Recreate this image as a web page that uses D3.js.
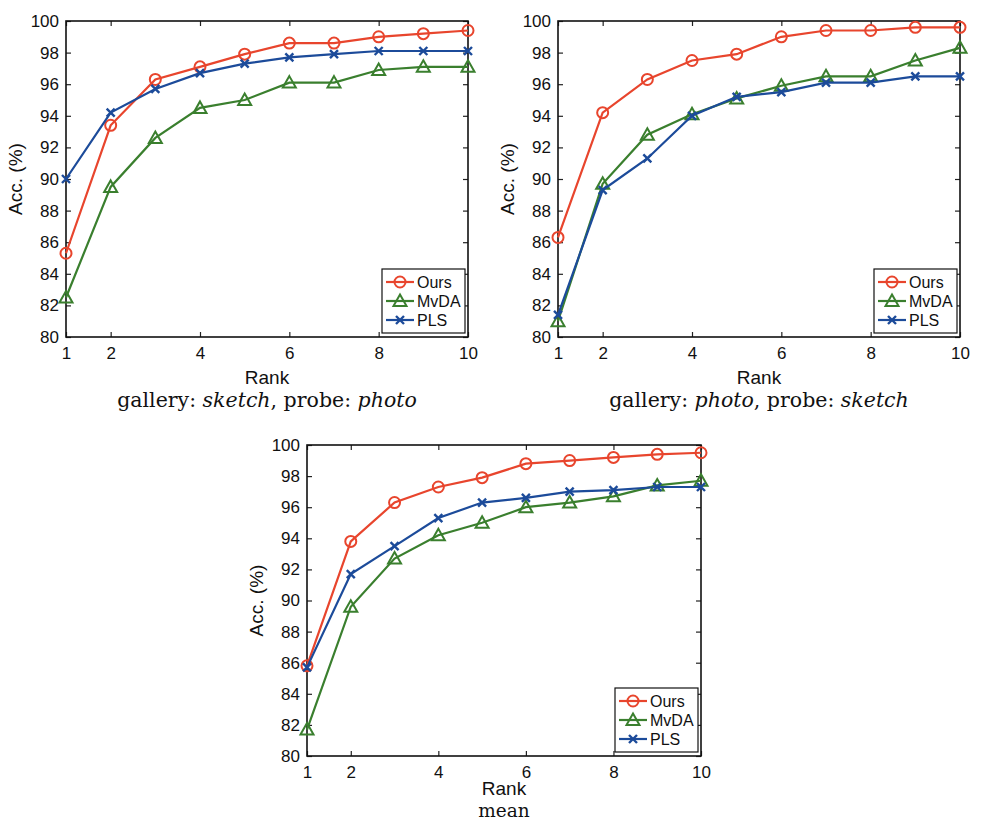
<!DOCTYPE html>
<html lang="en">
  <head>
    <meta charset="UTF-8" />
    <title>Rank vs accuracy</title>
    <script src="https://d3js.org/d3.v7.min.js"></script>
    <style>
      body { margin: 0; background: #fff; }
      svg { display: block; }
    </style>
  </head>
  <body>
    <svg width="981" height="822"></svg>
    <script>
      // chart values
      const ranks = [1, 2, 3, 4, 5, 6, 7, 8, 9, 10];
      const xTicks = [1, 2, 4, 6, 8, 10];
      const yTicks = [80, 82, 84, 86, 88, 90, 92, 94, 96, 98, 100];
      const methods = ['Ours', 'MvDA', 'PLS'];

      // gallery: sketch, probe: photo
      const oursSP = [85.3, 93.4, 96.3, 97.1, 97.9, 98.6, 98.6, 99.0, 99.2, 99.4];
      const mvdaSP = [82.5, 89.5, 92.6, 94.5, 95.0, 96.1, 96.1, 96.9, 97.1, 97.1];
      const plsSP = [90.0, 94.2, 95.7, 96.7, 97.3, 97.7, 97.9, 98.1, 98.1, 98.1];

      // gallery: photo, probe: sketch
      const oursPS = [86.3, 94.2, 96.3, 97.5, 97.9, 99.0, 99.4, 99.4, 99.6, 99.6];
      const mvdaPS = [81.0, 89.7, 92.8, 94.1, 95.1, 95.9, 96.5, 96.5, 97.5, 98.3];
      const plsPS = [81.4, 89.3, 91.3, 94.0, 95.2, 95.5, 96.1, 96.1, 96.5, 96.5];

      // mean
      const oursMean = [85.8, 93.8, 96.3, 97.3, 97.9, 98.8, 99.0, 99.2, 99.4, 99.5];
      const mvdaMean = [81.7, 89.6, 92.7, 94.2, 95.0, 96.0, 96.3, 96.7, 97.4, 97.7];
      const plsMean = [85.7, 91.7, 93.5, 95.3, 96.3, 96.6, 97.0, 97.1, 97.3, 97.3];

      const colors = { Ours: '#e8452d', MvDA: '#3a7f2e', PLS: '#1c4b9a' };
      const markers = { Ours: 'circle', MvDA: 'triangle', PLS: 'cross' };

      const panels = [
        {
          box: { left: 66, right: 468, top: 21, bottom: 337 },
          series: { Ours: oursSP, MvDA: mvdaSP, PLS: plsSP },
          rankY: 47, capY: 70, capSize: 20.5,
          caption: [['gallery: ', false], ['sketch', true], [', probe: ', false], ['photo', true]],
        },
        {
          box: { left: 558, right: 960, top: 21, bottom: 337 },
          series: { Ours: oursPS, MvDA: mvdaPS, PLS: plsPS },
          rankY: 47, capY: 70, capSize: 20.5,
          caption: [['gallery: ', false], ['photo', true], [', probe: ', false], ['sketch', true]],
        },
        {
          box: { left: 307, right: 701, top: 445, bottom: 756 },
          series: { Ours: oursMean, MvDA: mvdaMean, PLS: plsMean },
          rankY: 39, capY: 61, capSize: 18.5,
          caption: [['mean', false]],
        },
      ];

      const svg = d3.select('svg');
      const sans = 'Liberation Sans, Arial, Helvetica, sans-serif';
      const serif = 'DejaVu Serif, Liberation Serif, serif';

      function drawMarker(g, type, color) {
        if (type === 'circle') {
          g.append('circle').attr('r', 5.5).attr('fill', 'none').attr('stroke', color).attr('stroke-width', 2);
        } else if (type === 'triangle') {
          g.append('path').attr('d', 'M0,-6.5L6.5,5L-6.5,5Z').attr('fill', 'none').attr('stroke', color).attr('stroke-width', 2);
        } else {
          g.append('path').attr('d', 'M-4,-4L4,4M-4,4L4,-4').attr('stroke', color).attr('stroke-width', 2.4);
        }
      }

      panels.forEach((p) => {
        const b = p.box;
        const x = d3.scaleLinear().domain([1, 10]).range([b.left, b.right]);
        const y = d3.scaleLinear().domain([80, 100]).range([b.bottom, b.top]);
        const g = svg.append('g');

        // axes with inward ticks on all sides
        const bottom = g.append('g').attr('transform', `translate(0,${b.bottom})`)
          .call(d3.axisBottom(x).tickValues(xTicks).tickSize(-5).tickPadding(8));
        g.append('g').attr('transform', `translate(${b.left},0)`)
          .call(d3.axisLeft(y).tickValues(yTicks).tickSize(-5).tickPadding(7));
        g.append('g').attr('transform', `translate(0,${b.top})`)
          .call(d3.axisTop(x).tickValues(xTicks).tickSize(-5).tickFormat(''));
        g.append('g').attr('transform', `translate(${b.right},0)`)
          .call(d3.axisRight(y).tickValues(yTicks).tickSize(-5).tickFormat(''));
        g.selectAll('.domain').remove();
        g.selectAll('.tick line').attr('stroke', '#222').attr('stroke-width', 1.2);
        g.selectAll('.tick text').attr('fill', '#111').style('font-family', sans).style('font-size', '17px');
        bottom.selectAll('.tick text').attr('dy', '0.8em');

        g.append('rect')
          .attr('x', b.left).attr('y', b.top)
          .attr('width', b.right - b.left).attr('height', b.bottom - b.top)
          .attr('fill', 'none').attr('stroke', '#111').attr('stroke-width', 1.6);

        // series
        const line = d3.line().x((d, i) => x(ranks[i])).y((d) => y(d));
        methods.forEach((m) => {
          const vals = p.series[m];
          g.append('path').datum(vals).attr('d', line)
            .attr('fill', 'none').attr('stroke', colors[m]).attr('stroke-width', 2.2);
          vals.forEach((v, i) => {
            const mk = g.append('g').attr('transform', `translate(${x(ranks[i])},${y(v)})`);
            drawMarker(mk, markers[m], colors[m]);
          });
        });

        // axis titles
        const midX = (b.left + b.right) / 2;
        g.append('text').attr('x', midX).attr('y', b.bottom + p.rankY)
          .attr('text-anchor', 'middle').style('font-family', sans).style('font-size', '19px')
          .attr('fill', '#111').text('Rank');
        g.append('text')
          .attr('transform', `translate(${b.left - 44},${(b.top + b.bottom) / 2}) rotate(-90)`)
          .attr('text-anchor', 'middle').style('font-family', sans).style('font-size', '19px')
          .attr('fill', '#111').text('Acc. (%)');

        // caption
        const cap = g.append('text').attr('x', midX).attr('y', b.bottom + p.capY)
          .attr('text-anchor', 'middle').style('font-family', serif).style('font-size', `${p.capSize}px`)
          .attr('fill', '#111');
        p.caption.forEach(([t, it]) => {
          cap.append('tspan').style('font-style', it ? 'italic' : 'normal').text(t);
        });

        // legend
        const lw = 83, lh = 64;
        const lx = b.right - 3 - lw, ly = b.bottom - 4 - lh;
        const lg = g.append('g').attr('transform', `translate(${lx},${ly})`);
        lg.append('rect').attr('width', lw).attr('height', lh)
          .attr('fill', '#fff').attr('stroke', '#111').attr('stroke-width', 1.2);
        methods.forEach((m, i) => {
          const ry = 13 + i * 19;
          lg.append('line').attr('x1', 4).attr('x2', 32).attr('y1', ry).attr('y2', ry)
            .attr('stroke', colors[m]).attr('stroke-width', 2.2);
          drawMarker(lg.append('g').attr('transform', `translate(18,${ry})`), markers[m], colors[m]);
          lg.append('text').attr('x', 35).attr('y', ry).attr('dy', '0.36em')
            .style('font-family', sans).style('font-size', '16px').attr('fill', '#111').text(m);
        });
      });
    </script>
  </body>
</html>
